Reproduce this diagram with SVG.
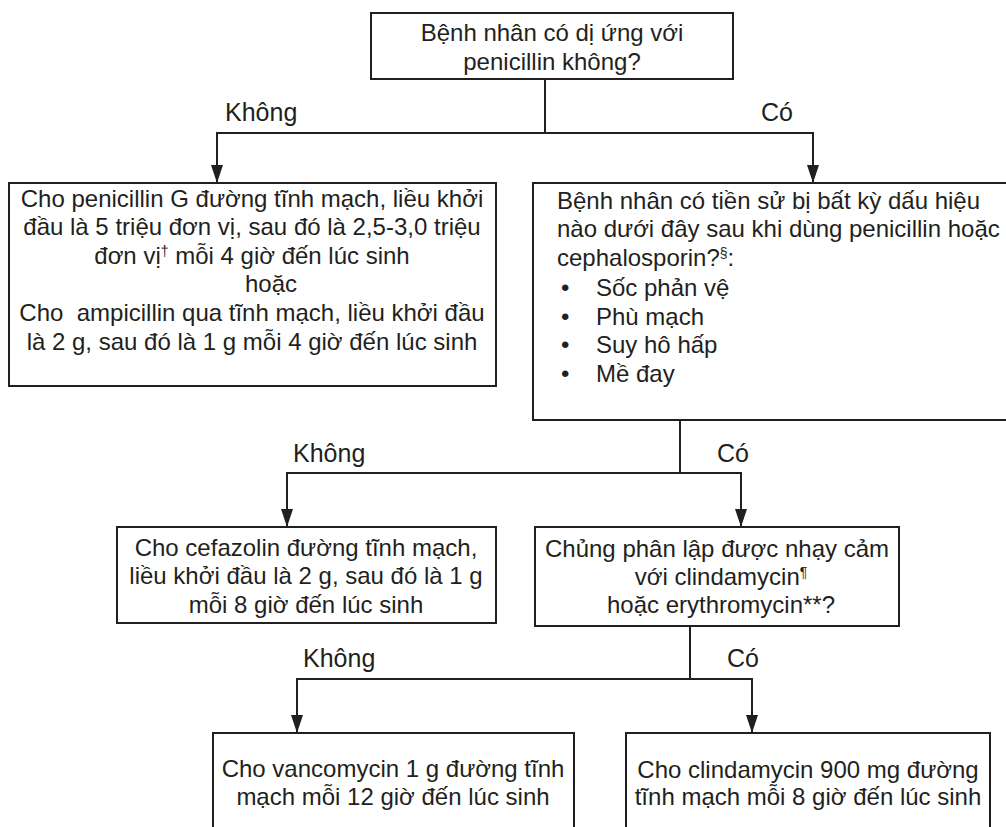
<svg xmlns="http://www.w3.org/2000/svg" width="1006" height="827" viewBox="0 0 1006 827">
<defs>
<style>
.box{fill:#fff;stroke:#231f20;stroke-width:2}
.t{font-family:"Liberation Sans",Arial,sans-serif;font-size:24px;fill:#231f20}
.c{text-anchor:middle}
.lbl{font-family:"Liberation Sans",Arial,sans-serif;font-size:25px;fill:#231f20}
.ln{fill:none;stroke:#231f20;stroke-width:2}
.sup{font-size:14px}
</style>
<marker id="ah" viewBox="0 0 18 12" refX="18" refY="6" markerWidth="18" markerHeight="12" markerUnits="userSpaceOnUse" orient="auto">
<path d="M0,0 L18,6 L0,12 z" fill="#231f20"/>
</marker>
</defs>
<rect width="1006" height="827" fill="#fff"/>
<g id="connectors">
<polyline class="ln" points="545,79 545,133"/>
<polyline class="ln" points="545,133 217,133 217,183" marker-end="url(#ah)"/>
<polyline class="ln" points="545,133 813,133 813,183" marker-end="url(#ah)"/>
<polyline class="ln" points="680,420 680,473"/>
<polyline class="ln" points="680,473 287,473 287,527" marker-end="url(#ah)"/>
<polyline class="ln" points="680,473 741,473 741,527" marker-end="url(#ah)"/>
<polyline class="ln" points="690,626 690,679"/>
<polyline class="ln" points="690,679 297,679 297,733" marker-end="url(#ah)"/>
<polyline class="ln" points="690,679 752,679 752,733" marker-end="url(#ah)"/>
<text class="lbl" x="225" y="121">Không</text>
<text class="lbl" x="761" y="121">Có</text>
<text class="lbl" x="293" y="462">Không</text>
<text class="lbl" x="717" y="462">Có</text>
<text class="lbl" x="303" y="667">Không</text>
<text class="lbl" x="727" y="667">Có</text>
</g>
<g id="q1">
<rect class="box" x="371" y="13" width="362" height="66"/>
<text class="t c" x="552" y="41">Bệnh nhân có dị ứng với</text>
<text class="t c" x="552" y="70">penicillin không?</text>
</g>
<g id="penicillin">
<rect class="box" x="9" y="183" width="487" height="203"/>
<text class="t c" x="252" y="207">Cho penicillin G đường tĩnh mạch, liều khởi</text>
<text class="t c" x="252" y="235">đầu là 5 triệu đơn vị, sau đó là 2,5-3,0 triệu</text>
<text class="t c" x="252" y="264">đơn vị<tspan class="sup" dy="-8">†</tspan><tspan dy="8"> mỗi 4 giờ đến lúc sinh</tspan></text>
<text class="t c" x="271" y="292">hoặc</text>
<text class="t c" x="252" y="321" style="white-space:pre">Cho  ampicillin qua tĩnh mạch, liều khởi đầu</text>
<text class="t c" x="252" y="350">là 2 g, sau đó là 1 g mỗi 4 giờ đến lúc sinh</text>
</g>
<g id="q2">
<rect class="box" x="533" y="183" width="490" height="237"/>
<text class="t" x="557" y="209">Bệnh nhân có tiền sử bị bất kỳ dấu hiệu</text>
<text class="t" x="557" y="237">nào dưới đây sau khi dùng penicillin hoặc</text>
<text class="t" x="557" y="266">cephalosporin?<tspan class="sup" dy="-8">§</tspan><tspan dy="8">:</tspan></text>
<text class="t" x="561" y="296">•</text><text class="t" x="596" y="296">Sốc phản vệ</text>
<text class="t" x="561" y="325">•</text><text class="t" x="596" y="325">Phù mạch</text>
<text class="t" x="561" y="353">•</text><text class="t" x="596" y="353">Suy hô hấp</text>
<text class="t" x="561" y="382">•</text><text class="t" x="596" y="382">Mề đay</text>
</g>
<g id="cefazolin">
<rect class="box" x="117" y="527" width="379" height="96"/>
<text class="t c" x="306" y="556">Cho cefazolin đường tĩnh mạch,</text>
<text class="t c" x="306" y="584">liều khởi đầu là 2 g, sau đó là 1 g</text>
<text class="t c" x="306" y="613">mỗi 8 giờ đến lúc sinh</text>
</g>
<g id="q3">
<rect class="box" x="535" y="527" width="364" height="99"/>
<text class="t c" x="717" y="557">Chủng phân lập được nhạy cảm</text>
<text class="t c" x="721" y="585">với clindamycin<tspan class="sup" dy="-8">¶</tspan></text>
<text class="t c" x="721" y="613">hoặc erythromycin**?</text>
</g>
<g id="vancomycin">
<rect class="box" x="213" y="733" width="361" height="110"/>
<text class="t c" x="393" y="777">Cho vancomycin 1 g đường tĩnh</text>
<text class="t c" x="393" y="805">mạch mỗi 12 giờ đến lúc sinh</text>
</g>
<g id="clindamycin">
<rect class="box" x="626" y="733" width="364" height="110"/>
<text class="t c" x="808" y="778">Cho clindamycin 900 mg đường</text>
<text class="t c" x="808" y="805">tĩnh mạch mỗi 8 giờ đến lúc sinh</text>
</g>
</svg>
